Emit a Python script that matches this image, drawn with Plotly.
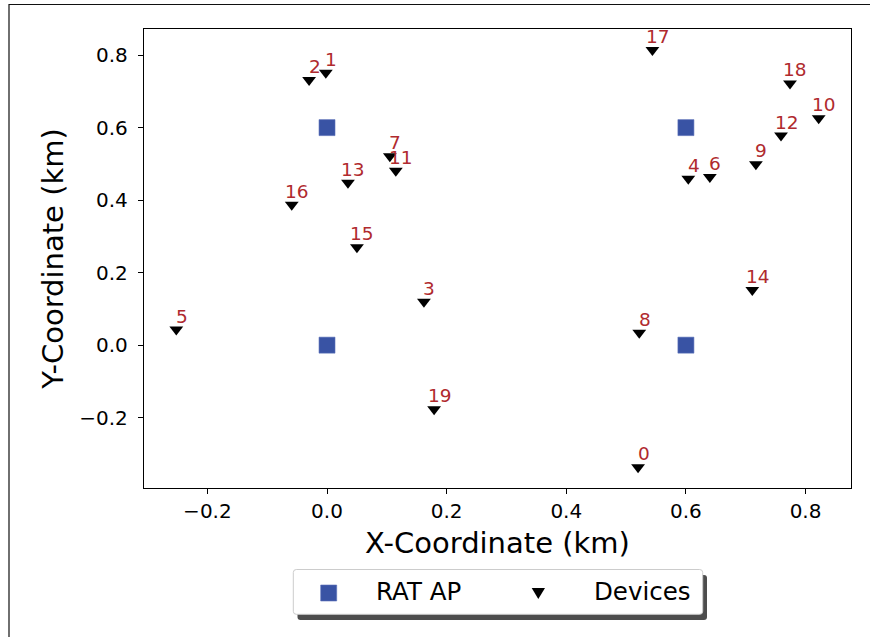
import plotly.graph_objects as go

# Access point locations (km)
ap_x = [0.0, 0.0, 0.6, 0.6]
ap_y = [0.0, 0.6, 0.0, 0.6]

# Device locations (km), indexed 0..19
dev_x = [0.520, -0.002, -0.030, 0.162, 0.604, -0.252, 0.640, 0.105, 0.522, 0.717,
         0.822, 0.115, 0.759, 0.035, 0.711, 0.050, -0.059, 0.544, 0.774, 0.179]
dev_y = [-0.337, 0.751, 0.731, 0.120, 0.459, 0.043, 0.464, 0.521, 0.034, 0.499,
         0.626, 0.481, 0.578, 0.448, 0.152, 0.270, 0.387, 0.814, 0.722, -0.177]
dev_ids = [str(i) for i in range(len(dev_x))]

x_ticks = [-0.2, 0.0, 0.2, 0.4, 0.6, 0.8]
y_ticks = [-0.2, 0.0, 0.2, 0.4, 0.6, 0.8]


def fmt(v):
    s = f"{abs(v):.1f}"
    return ("\u2212" + s) if v < 0 else s


FONT = "DejaVu Sans, Verdana, sans-serif"
AP_COLOR = "#3953a4"
LABEL_COLOR = "#b02a2e"

W, H = 870, 637
ML, MR, MT, MB = 144, 19, 29, 149
PW, PH = W - ML - MR, H - MT - MB


def px2paper(px, py):
    return (px - ML) / PW, (H - MB - py) / PH


fig = go.Figure()

fig.add_trace(go.Scatter(
    x=ap_x, y=ap_y, mode="markers", name="RAT AP",
    marker=dict(symbol="square", size=16, color=AP_COLOR,
                line=dict(color="#5a70b8", width=0.6)),
    showlegend=False,
))
fig.add_trace(go.Scatter(
    x=dev_x, y=dev_y, mode="markers", name="Devices",
    marker=dict(symbol="triangle-down", size=12, color="black",
                line=dict(width=0)),
    showlegend=False,
))

annotations = []
for xi, yi, lab in zip(dev_x, dev_y, dev_ids):
    annotations.append(dict(
        x=xi, y=yi, xref="x", yref="y", text=lab, showarrow=False,
        xanchor="center", yanchor="bottom", xshift=5.5, yshift=1,
        font=dict(family=FONT, size=18.5, color=LABEL_COLOR),
    ))

# Legend drawn as a rounded box with a drop shadow
def rounded_rect(x0p, y0p, x1p, y1p, r=3):
    ax0, ay0 = px2paper(x0p, y1p)
    ax1, ay1 = px2paper(x1p, y0p)
    rx, ry = r / PW, r / PH
    return (f"M{ax0 + rx},{ay0} L{ax1 - rx},{ay0} Q{ax1},{ay0} {ax1},{ay0 + ry} "
            f"L{ax1},{ay1 - ry} Q{ax1},{ay1} {ax1 - rx},{ay1} "
            f"L{ax0 + rx},{ay1} Q{ax0},{ay1} {ax0},{ay1 - ry} "
            f"L{ax0},{ay0 + ry} Q{ax0},{ay0} {ax0 + rx},{ay0} Z")


shapes = []
# outer figure frame
fx0, fy0 = px2paper(9, 4.5)
fx1, fy1 = px2paper(W + 20, H + 20)
shapes.append(dict(type="rect", xref="paper", yref="paper", x0=fx0, y0=fy1, x1=fx1, y1=fy0,
                   line=dict(color="#111111", width=1.2), fillcolor="rgba(0,0,0,0)", layer="below"))

shapes.append(dict(type="path", xref="paper", yref="paper",
                   path=rounded_rect(297.5, 575, 707, 620),
                   fillcolor="#4d4d4d", line=dict(width=0)))
shapes.append(dict(type="path", xref="paper", yref="paper",
                   path=rounded_rect(293.3, 569.5, 702.7, 614.3),
                   fillcolor="white", line=dict(color="#cccccc", width=1)))

# legend handle: square
sx0, sy0 = px2paper(320.7, 601)
sx1, sy1 = px2paper(336.7, 585)
shapes.append(dict(type="rect", xref="paper", yref="paper", x0=sx0, y0=sy0, x1=sx1, y1=sy1,
                   fillcolor=AP_COLOR, line=dict(color="#5a70b8", width=0.6)))
# legend handle: triangle
t1 = px2paper(531.7, 588)
t2 = px2paper(545, 588)
t3 = px2paper(538.3, 599)
shapes.append(dict(type="path", xref="paper", yref="paper",
                   path=f"M{t1[0]},{t1[1]} L{t2[0]},{t2[1]} L{t3[0]},{t3[1]} Z",
                   fillcolor="black", line=dict(width=0)))

for txt, px in [("RAT AP", 374), ("Devices", 591.5)]:
    ax_, ay_ = px2paper(px, 591)
    annotations.append(dict(
        x=ax_, y=ay_, xref="paper", yref="paper", text=txt, showarrow=False,
        xanchor="left", yanchor="middle",
        font=dict(family=FONT, size=24.5, color="black"),
    ))

fig.update_layout(
    width=W, height=H,
    margin=dict(l=ML, r=MR, t=MT, b=MB, autoexpand=False),
    paper_bgcolor="white", plot_bgcolor="white",
    font=dict(family=FONT, color="black"),
    showlegend=False,
    annotations=annotations,
    shapes=shapes,
)

fig.update_xaxes(
    range=[-0.306, 0.876], tickmode="array", tickvals=x_ticks,
    ticktext=[fmt(v) for v in x_ticks],
    ticks="outside", ticklen=5, tickwidth=1.2, tickcolor="black",
    tickfont=dict(family=FONT, size=20, color="black"),
    showline=True, linecolor="black", linewidth=1.3, mirror=True,
    showgrid=False, zeroline=False,
    title=dict(text="X-Coordinate (km)", font=dict(family=FONT, size=29, color="black"),
               standoff=10),
)
fig.update_yaxes(
    range=[-0.394, 0.872], tickmode="array", tickvals=y_ticks,
    ticktext=[fmt(v) for v in y_ticks],
    ticks="outside", ticklen=5, tickwidth=1.2, tickcolor="black",
    tickfont=dict(family=FONT, size=20, color="black"),
    ticklabelstandoff=6,
    showline=True, linecolor="black", linewidth=1.3, mirror=True,
    showgrid=False, zeroline=False,
    title=dict(text="Y-Coordinate (km)", font=dict(family=FONT, size=29, color="black"),
               standoff=7),
)

fig.write_html("out.html")
